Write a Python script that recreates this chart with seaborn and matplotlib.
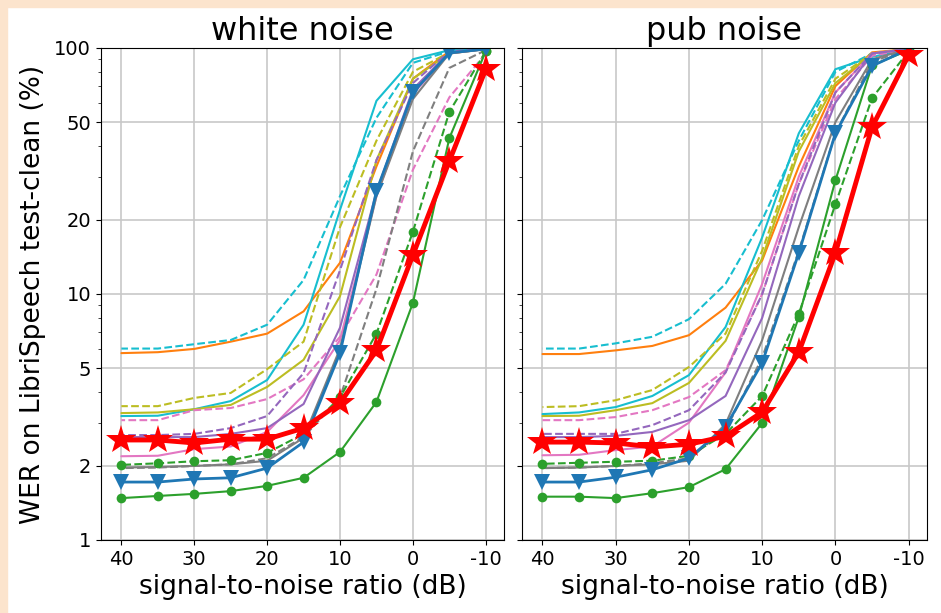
import seaborn as sns
import matplotlib.pyplot as plt
from matplotlib.patches import Rectangle

# SNR levels (dB), plotted from clean to noisy
snr = [40, 35, 30, 25, 20, 15, 10, 5, 0, -5, -10]
panel_titles = ["white noise", "pub noise"]
y_ticks = [1, 2, 5, 10, 20, 50, 100]
x_ticks = [40, 30, 20, 10, 0, -10]

# --- white noise (WER %) ---
white_orange = [5.75, 5.8, 5.98, 6.4, 6.9, 8.5, 13.4, 33, 75, 97, 99]
white_cyan = [3.19, 3.2, 3.4, 3.67, 4.47, 7.5, 22, 61, 90, 98, 99]
white_cyan_d = [6.0, 6.0, 6.25, 6.5, 7.5, 11.4, 25, 52, 87, 97, 99]
white_olive = [3.28, 3.3, 3.4, 3.54, 4.19, 5.4, 9.8, 35, 75, 95, 99]
white_olive_d = [3.5, 3.5, 3.78, 3.96, 4.95, 6.4, 18.7, 42, 80, 96, 99]
white_pink = [2.19, 2.2, 2.34, 2.4, 2.75, 3.88, 6.5, 25, 65, 95, 99]
white_pink_d = [3.07, 3.07, 3.37, 3.44, 3.74, 4.5, 6.7, 12, 32, 63, 95]
white_purple = [2.62, 2.62, 2.62, 2.7, 2.85, 3.57, 7.3, 26, 68, 96, 99]
white_purple_d = [2.67, 2.67, 2.7, 2.85, 3.19, 4.77, 12.5, 35, 72, 97, 99]
white_gray = [1.97, 1.98, 2.0, 2.03, 2.1, 2.6, 6.0, 25, 62, 95, 99]
white_gray_d = [1.96, 1.97, 2.0, 2.03, 2.15, 2.62, 3.8, 10.5, 38, 83, 98]
white_green = [1.48, 1.51, 1.54, 1.58, 1.66, 1.79, 2.28, 3.64, 9.2, 43, 97]
white_green_d = [2.02, 2.05, 2.09, 2.11, 2.26, 2.7, 3.8, 6.9, 17.9, 55, 97]
white_blue = [1.72, 1.72, 1.77, 1.79, 1.96, 2.5, 5.76, 26.2, 66, 95.5, 99]
white_red = [2.55, 2.55, 2.48, 2.57, 2.57, 2.85, 3.6, 5.9, 14.4, 34.7, 82]

# --- pub noise (WER %) ---
pub_orange = [5.7, 5.7, 5.9, 6.15, 6.8, 8.8, 13.7, 33, 70, 96, 99]
pub_cyan = [3.25, 3.3, 3.47, 3.85, 4.68, 7.34, 17, 45, 82, 92, 99]
pub_cyan_d = [6.0, 6.0, 6.3, 6.7, 7.9, 11, 20, 42, 80, 95, 99]
pub_olive = [3.19, 3.2, 3.37, 3.6, 4.35, 6.45, 14, 38, 72, 95, 99]
pub_olive_d = [3.47, 3.5, 3.7, 4.07, 5.05, 6.9, 15, 40, 75, 95, 99]
pub_pink = [2.21, 2.22, 2.32, 2.4, 3.0, 4.8, 11, 30, 66, 95, 99]
pub_pink_d = [3.07, 3.07, 3.16, 3.37, 3.81, 4.9, 10, 28, 62, 93, 99]
pub_purple = [2.62, 2.62, 2.65, 2.75, 3.07, 3.85, 8, 25, 60, 95, 99]
pub_purple_d = [2.7, 2.7, 2.7, 2.93, 3.37, 4.8, 10, 28, 66, 95, 99]
pub_gray = [1.96, 1.97, 2.0, 2.03, 2.1, 2.96, 6.5, 18.7, 50, 90, 99]
pub_gray_d = [1.96, 1.97, 2.0, 2.05, 2.15, 2.8, 5.5, 15, 45, 88, 99]
pub_green = [1.5, 1.5, 1.48, 1.55, 1.64, 1.94, 2.99, 8.06, 29, 85, 98]
pub_green_d = [2.04, 2.06, 2.08, 2.1, 2.2, 2.7, 3.85, 8.3, 23.2, 62.6, 97]
pub_blue = [1.72, 1.72, 1.8, 1.93, 2.15, 2.88, 5.25, 14.7, 45, 84.5, 99]
pub_red = [2.5, 2.5, 2.48, 2.39, 2.45, 2.64, 3.31, 5.8, 14.7, 47.7, 93.6]

white_thin = [white_orange, white_cyan, white_cyan_d, white_olive, white_olive_d,
              white_pink, white_pink_d, white_purple, white_purple_d, white_gray, white_gray_d]
pub_thin = [pub_orange, pub_cyan, pub_cyan_d, pub_olive, pub_olive_d,
            pub_pink, pub_pink_d, pub_purple, pub_purple_d, pub_gray, pub_gray_d]
thin_styles = [("tab:orange", "-"), ("tab:cyan", "-"), ("tab:cyan", "--"),
               ("tab:olive", "-"), ("tab:olive", "--"), ("tab:pink", "-"),
               ("tab:pink", "--"), ("tab:purple", "-"), ("tab:purple", "--"),
               ("tab:gray", "-"), ("tab:gray", "--")]

sns.set_style("ticks")
plt.rcParams["font.family"] = ["DejaVu Sans"]
plt.rcParams["text.color"] = "black"
plt.rcParams["axes.labelcolor"] = "black"

fig = plt.figure(figsize=(9.41, 6.13), dpi=100)
ax1 = fig.add_axes([0.1073, 0.1191, 0.4283, 0.8026])
ax2 = fig.add_axes([0.5547, 0.1191, 0.4304, 0.8026], sharey=ax1)

# peach frame on top and left edge
fig.patches.append(Rectangle((0, 1 - 7 / 613), 1, 7 / 613, transform=fig.transFigure,
                             color="#fce4cd", zorder=0))
fig.patches.append(Rectangle((0, 0), 7 / 941, 1, transform=fig.transFigure,
                             color="#fce4cd", zorder=0))

panels = [
    (ax1, white_thin, white_green, white_green_d, white_blue, white_red),
    (ax2, pub_thin, pub_green, pub_green_d, pub_blue, pub_red),
]

for i, (ax, thin, green, green_d, blue, red) in enumerate(panels):
    for vals, (c, ls) in zip(thin, thin_styles):
        sns.lineplot(x=snr, y=vals, ax=ax, color=c, linestyle=ls, linewidth=1.5)
    sns.lineplot(x=snr, y=green, ax=ax, color="tab:green", linewidth=1.5,
                 marker="o", markersize=7, markeredgewidth=0)
    sns.lineplot(x=snr, y=green_d, ax=ax, color="tab:green", linestyle="--", linewidth=1.5,
                 marker="o", markersize=7, markeredgewidth=0)
    sns.lineplot(x=snr, y=blue, ax=ax, color="tab:blue", linewidth=2,
                 marker="v", markersize=11, markeredgewidth=0)
    sns.lineplot(x=snr, y=red, ax=ax, color="red", linewidth=3.5,
                 marker="*", markersize=22, markeredgewidth=0)

    ax.set_yscale("log")
    ax.set_ylim(1, 100)
    ax.set_yticks(y_ticks)
    ax.set_yticklabels([str(t) for t in y_ticks])
    ax.set_xlim(42.8, -12.5)
    ax.set_xticks(x_ticks)
    ax.set_xticklabels([str(t) for t in x_ticks])
    ax.grid(True, which="major", color="#c8c8c8", linewidth=1.2)
    ax.tick_params(labelsize=14, colors="black")
    for sp in ax.spines.values():
        sp.set_color("black")
    ax.set_title(panel_titles[i], fontsize=23, color="black")
    ax.set_xlabel("signal-to-noise ratio (dB)", fontsize=19)

ax1.set_ylabel("WER on LibriSpeech test-clean (%)", fontsize=19, labelpad=6)
ax2.set_ylabel("")
ax2.tick_params(labelleft=False)

plt.savefig("out.png", dpi=100)
plt.close()
